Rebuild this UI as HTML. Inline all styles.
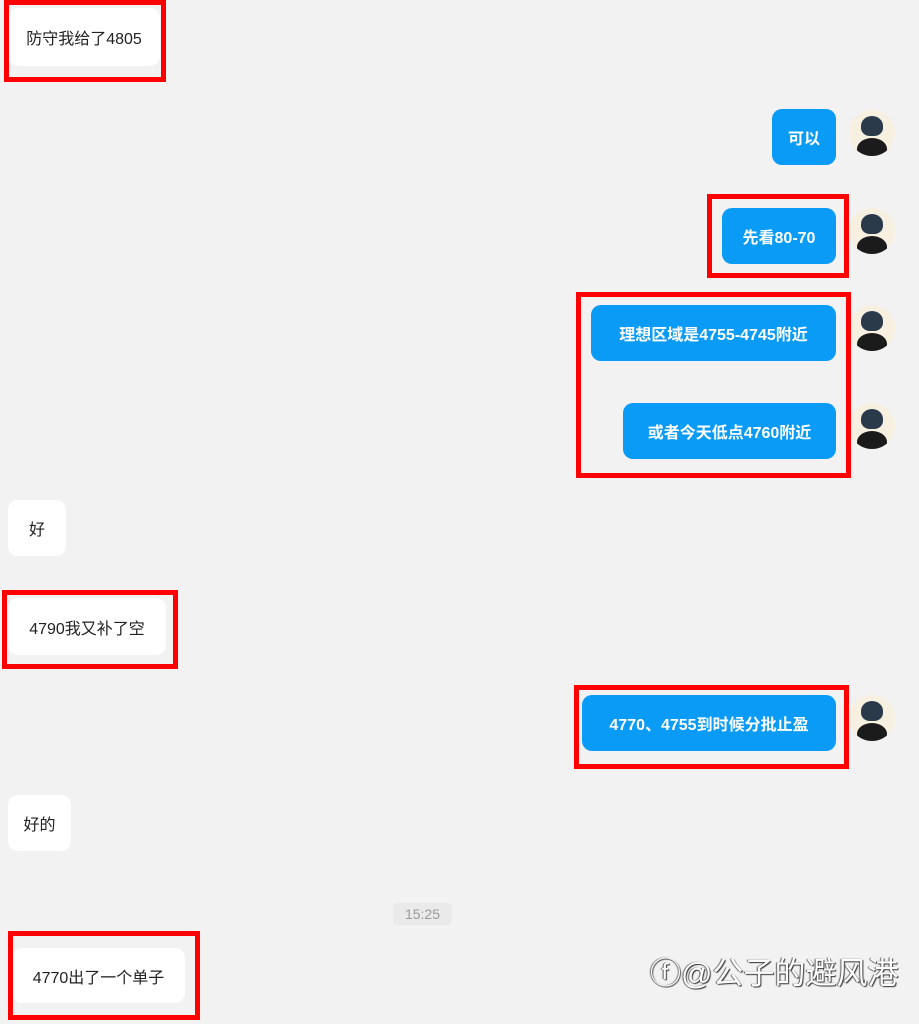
<!DOCTYPE html>
<html><head><meta charset="utf-8"><style>
body{margin:0;width:919px;height:1024px;background:#f2f2f2;position:relative;overflow:hidden;font-family:"Liberation Sans","Noto Sans CJK SC",sans-serif}
.b{position:absolute;border-radius:10px;font-size:16px;display:flex;align-items:center;justify-content:center;box-sizing:border-box}
.w{background:#fff;color:#222}
.bl{background:#0a9bf7;color:#fff;font-weight:bold}
.r{position:absolute;border:5px solid #f00;box-sizing:border-box}
.av{position:absolute;width:46px;height:46px;border-radius:50%;background:#f7efe0;overflow:hidden}
.av:before{content:"";position:absolute;left:12px;top:6px;width:22px;height:20px;border-radius:50% 50% 40% 40%;background:#2a3a4a}
.av:after{content:"";position:absolute;left:8px;top:28px;width:30px;height:22px;border-radius:50% 50% 0 0;background:#1b1b1b}
</style></head><body>
<div class="b w" style="left:8px;top:8px;width:152px;height:58px">防守我给了4805</div>
<div class="r" style="left:4px;top:0;width:162px;height:82px"></div>

<div class="b bl" style="left:772px;top:109px;width:64px;height:56px">可以</div>
<div class="av" style="left:849px;top:110px"></div>

<div class="b bl" style="left:722px;top:208px;width:114px;height:56px">先看80-70</div>
<div class="r" style="left:707px;top:194px;width:142px;height:84px"></div>
<div class="av" style="left:849px;top:208px"></div>

<div class="b bl" style="left:591px;top:305px;width:245px;height:56px">理想区域是4755-4745附近</div>
<div class="av" style="left:849px;top:305px"></div>
<div class="b bl" style="left:623px;top:403px;width:213px;height:56px">或者今天低点4760附近</div>
<div class="av" style="left:849px;top:403px"></div>
<div class="r" style="left:576px;top:292px;width:275px;height:186px"></div>

<div class="b w" style="left:8px;top:500px;width:58px;height:56px">好</div>

<div class="b w" style="left:8px;top:598px;width:158px;height:57px">4790我又补了空</div>
<div class="r" style="left:2px;top:590px;width:176px;height:79px"></div>

<div class="b bl" style="left:582px;top:695px;width:254px;height:56px">4770、4755到时候分批止盈</div>
<div class="r" style="left:574px;top:685px;width:275px;height:84px"></div>
<div class="av" style="left:849px;top:695px"></div>

<div class="b w" style="left:8px;top:795px;width:63px;height:56px">好的</div>

<div style="position:absolute;left:393px;top:903px;width:59px;height:22px;background:#eaeaea;color:#999;font-size:14px;text-align:center;line-height:22px;border-radius:4px">15:25</div>

<div class="b w" style="left:12px;top:948px;width:173px;height:55px">4770出了一个单子</div>
<div class="r" style="left:8px;top:931px;width:192px;height:89px"></div>

<div style="position:absolute;left:650px;top:948px;font-size:31px;color:#fff;text-shadow:1px 1px 1px #333,-1px 0 1px #555;white-space:nowrap">ⓕ@公子的避风港</div>
</body></html>
